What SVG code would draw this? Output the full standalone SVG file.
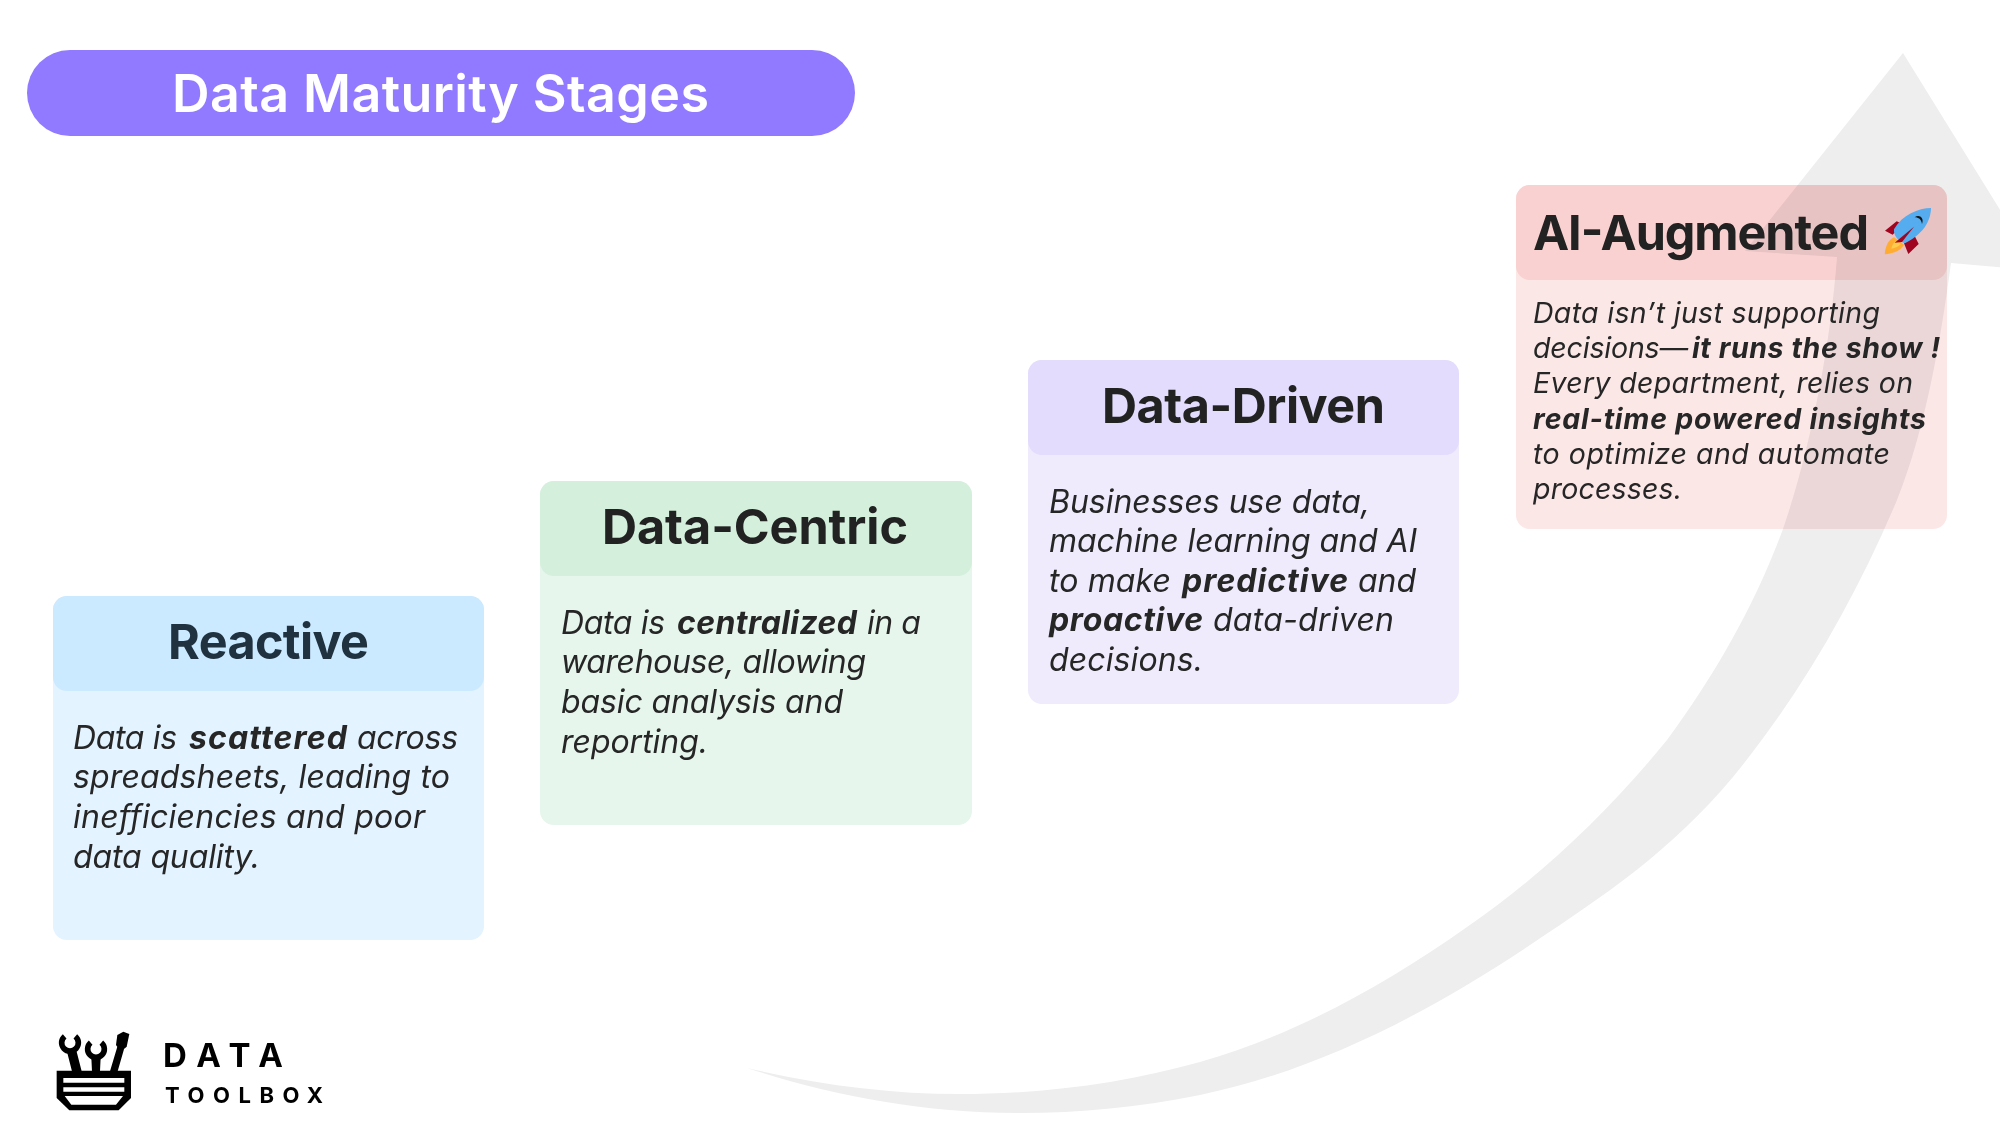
<svg xmlns="http://www.w3.org/2000/svg" width="2000" height="1125" viewBox="0 0 2000 1125">
<defs>
<style>
text{font-family:"Inter","Noto Sans","Liberation Sans",sans-serif;}
.h{font-size:48.5px;font-weight:700;fill:#222222;}
.b{font-size:32px;font-style:italic;fill:#262626;}
.s{font-size:28.5px;font-style:italic;fill:#262626;}
.k{font-weight:700;}
.m{mix-blend-mode:multiply;}
.t{font-weight:700;fill:#000000;}
</style>
</defs>
<rect width="2000" height="1125" fill="#ffffff"/>
<g id="connectors">
<path id="growth-arrow" fill="#eeeeee" d="M747,1068 C820,1085 890,1094 960,1094 C1045,1094 1125,1083 1200,1062 C1295,1035 1385,985 1467,927 C1545,873 1610,810 1667,740 C1715,675 1755,605 1783,529 C1810,450 1830,350 1837,257 L1745,251 L1903,53 L2010,226 L2010,268 L1951,263 C1940,345 1925,430 1897,500 C1855,600 1800,695 1733,777 C1670,852 1605,895 1533,943 C1430,1012 1320,1070 1200,1095 C1140,1107 1080,1113 1020,1113 C920,1113 830,1095 747,1068Z"/>
</g>
<g id="title">
<rect x="27" y="50" width="828" height="86" rx="43" fill="#917aff"/>
<text x="172" y="112" font-size="52" font-weight="600" fill="#ffffff" textLength="537">Data Maturity Stages</text>
</g>
<g id="reactive">
<g class="m"><rect x="53" y="596" width="431" height="344" rx="14" fill="#e3f3ff"/>
<rect x="53" y="596" width="431" height="95" rx="14" fill="#cbe9ff"/></g>
<text class="h" x="168" y="659" style="fill:#20323f" textLength="201">Reactive</text>
<text class="b" y="749"><tspan x="73" textLength="104">Data is</tspan> <tspan class="k" x="189" textLength="158">scattered</tspan> <tspan x="357" textLength="101">across</tspan></text>
<text class="b" x="73" y="788" textLength="377">spreadsheets, leading to</text>
<text class="b" x="73" y="828" textLength="352">inefficiencies and poor</text>
<text class="b" x="73" y="868" textLength="187">data quality.</text>
</g>
<g id="data-centric">
<g class="m"><rect x="540" y="481" width="432" height="344" rx="14" fill="#e6f6ec"/>
<rect x="540" y="481" width="432" height="95" rx="14" fill="#d4f0dc"/></g>
<text class="h" x="602" y="544" textLength="306">Data-Centric</text>
<text class="b" y="634"><tspan x="561" textLength="104">Data is</tspan> <tspan class="k" x="677" textLength="180">centralized</tspan> <tspan x="867" textLength="54">in a</tspan></text>
<text class="b" x="561" y="673" textLength="305">warehouse, allowing</text>
<text class="b" x="561" y="713" textLength="282">basic analysis and</text>
<text class="b" x="561" y="753" textLength="147">reporting.</text>
</g>
<g id="data-driven">
<g class="m"><rect x="1028" y="360" width="431" height="344" rx="14" fill="#efebfd"/>
<rect x="1028" y="360" width="431" height="95" rx="14" fill="#e3dcfd"/></g>
<text class="h" x="1102" y="423" textLength="283">Data-Driven</text>
<text class="b" x="1049" y="513" textLength="321">Businesses use data,</text>
<text class="b" x="1049" y="552" textLength="368">machine learning and AI</text>
<text class="b" y="592"><tspan x="1049" textLength="122">to make</tspan> <tspan class="k" x="1182" textLength="166">predictive</tspan> <tspan x="1358" textLength="58">and</tspan></text>
<text class="b" y="631"><tspan class="k" x="1049" textLength="154">proactive</tspan> <tspan x="1213" textLength="181">data-driven</tspan></text>
<text class="b" x="1049" y="671" textLength="154">decisions.</text>
</g>
<g id="ai-augmented">
<g class="m"><rect x="1516" y="185" width="431" height="344" rx="14" fill="#fce7e7"/>
<rect x="1516" y="185" width="431" height="95" rx="14" fill="#f9d1d1"/></g>
<text class="h" x="1533" y="250" textLength="336">AI-Augmented</text>
<g id="rocket" transform="translate(1880,200) scale(0.3333)">
<path d="M15,92 L50,64 L68,72 L38,104Z" fill="#a0041e"/>
<path d="M85,162 L72,130 L104,108 L116,132Z" fill="#a0041e"/>
<path d="M14,163 C16,140 24,120 42,112 L72,134 C62,152 40,160 14,163Z" fill="#ffac33"/>
<path d="M34,146 C36,134 42,126 50,122 L62,132 C56,140 46,144 34,146Z" fill="#ffcc4d"/>
<path d="M153,24 C116,24 66,44 42,88 C40,106 54,124 74,130 C116,110 152,74 153,24Z" fill="#55acee"/>
<path d="M44,128 L102,80 L66,126Z" fill="#a0041e"/>
<path d="M104,52 C116,42 134,52 126,72 C124,58 116,52 104,52Z" fill="#141414"/>
</g>
<text class="s" x="1533" y="323" textLength="347">Data isn’t just supporting</text>
<text class="s" y="358"><tspan x="1533" textLength="155">decisions—</tspan><tspan class="k" x="1692" textLength="248">it runs the show !</tspan></text>
<text class="s" x="1533" y="393" textLength="380">Every department, relies on</text>
<text class="s k" x="1533" y="429" textLength="393">real-time powered insights</text>
<text class="s" x="1533" y="464" textLength="357">to optimize and automate</text>
<text class="s" x="1533" y="499" textLength="149">processes.</text>
</g>
<g id="logo">
<g transform="translate(30,1010) scale(0.3333)">
<path d="M104,79 A25,25 0 1 0 136,79 M182,98 A25,25 0 1 0 214,98" stroke="#000000" stroke-width="17" fill="none"/>
<path d="M111,125 H140 L155,184 H126Z M184,142 H212 L210,184 H186Z M240,184 L262,110 L282,118 L263,184Z" fill="#000000"/>
<path d="M262,75 L280,65 L298,72 L290,110 L272,125 L258,105Z" fill="#000000"/>
<path d="M80,182 H303 V264 L266,301 H118 L80,264Z" fill="#000000"/>
<path d="M100,204 H283 V218 H100Z M100,232 H283 V245 H100Z M104,258 H279 L258,284 H124Z" fill="#ffffff"/>
</g>
<text class="t" x="163" y="1067" font-size="33" font-weight="800" textLength="120">DATA</text>
<text class="t" x="165" y="1103" font-size="22" textLength="158">TOOLBOX</text>
</g>
</svg>
